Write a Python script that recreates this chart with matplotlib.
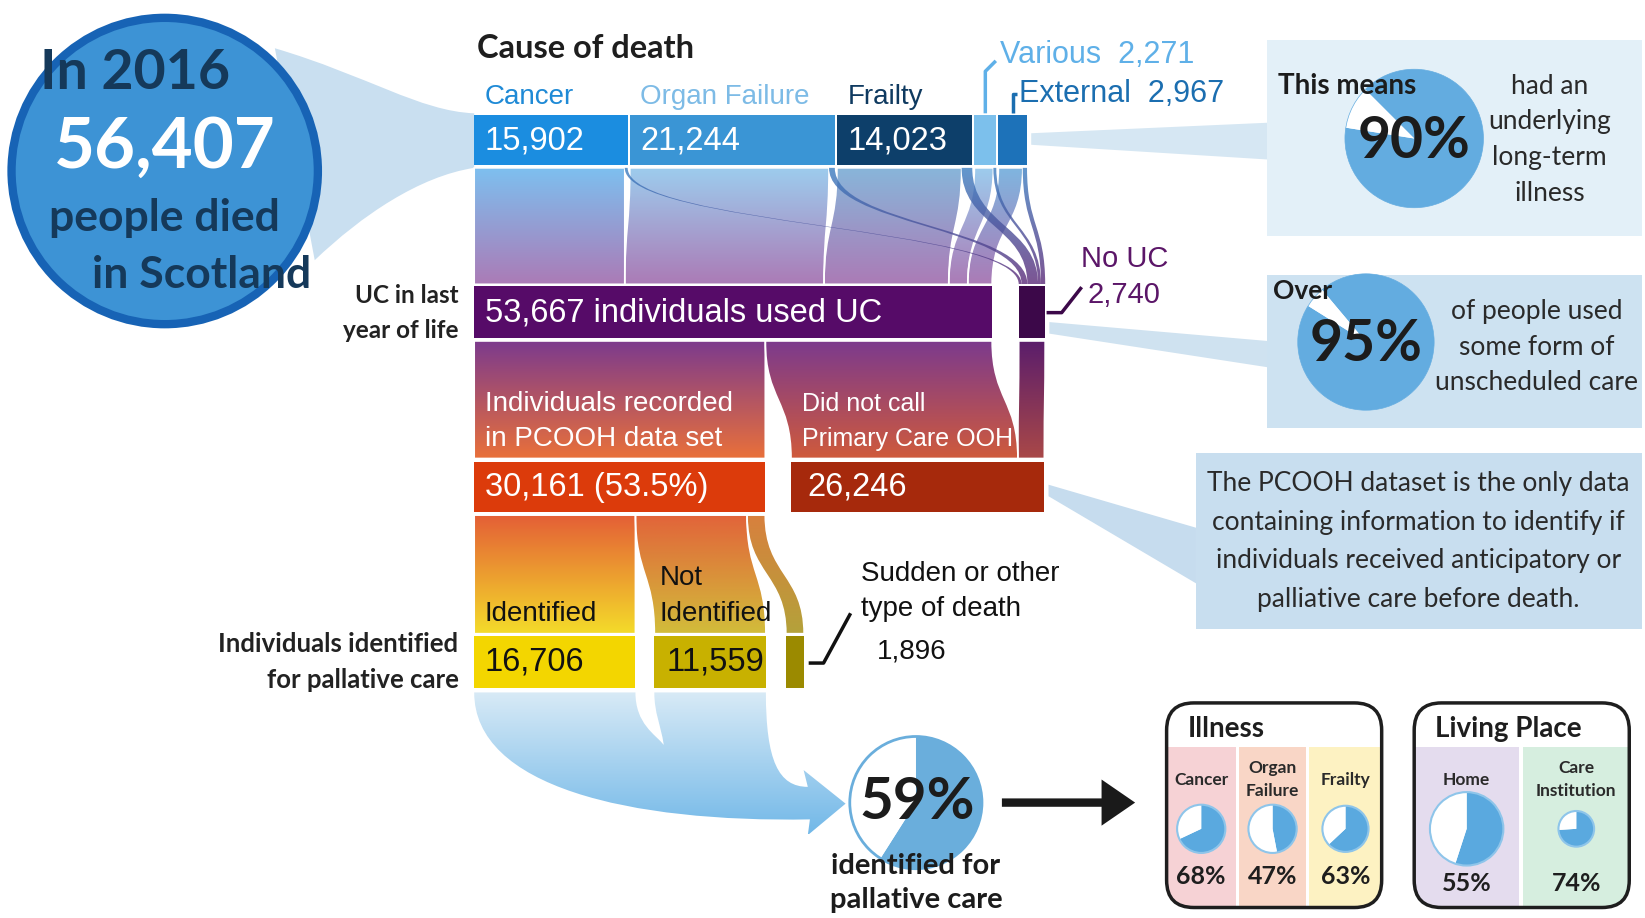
import numpy as np
import matplotlib
matplotlib.use('Agg')
import matplotlib.pyplot as plt
from matplotlib.path import Path
from matplotlib.patches import PathPatch, Rectangle, Circle, Polygon, FancyBboxPatch, FancyArrow
from matplotlib.colors import LinearSegmentedColormap

# ---------------- data ----------------
total_deaths = 56407
year = 2016
cause_labels = ['Cancer', 'Organ Failure', 'Frailty', 'Various', 'External']
cause_values = [15902, 21244, 14023, 2271, 2967]
cause_no_uc = [300, 600, 1100, 300, 440]          # estimated split of the 2,740 "No UC"
uc_values = [53667, 2740]                          # used UC, No UC
pcooh_values = [30161, 26246]                      # recorded in PCOOH, did not call
palliative_labels = ['Identified', 'Not Identified', 'Sudden or other type of death']
palliative_values = [16706, 11559, 1896]
underlying_pct = 90
uc_pct = 95
identified_pct = 59
illness_labels = ['Cancer', 'Organ\nFailure', 'Frailty']
illness_pcts = [68, 47, 63]
place_labels = ['Home', 'Care\nInstitution']
place_pcts = [55, 74]

# ---------------- canvas ----------------
W, H = 1568, 875
fig = plt.figure(figsize=(16.45, 9.18), dpi=100)
ax = fig.add_axes([0, 0, 1, 1])
ax.set_xlim(0, W); ax.set_ylim(H, 0); ax.axis('off')

SANS = 'Liberation Sans'
HUM = 'Lato'
S = 0.0092   # px per person
X0 = 452


def segs(values, x0, gaps):
    out = []; x = x0
    for v, g in zip(values, gaps):
        w = v * S
        out.append((x, x + w)); x += w + g
    return out


def band_path(a0, a1, yt, b0, b1, yb):
    ym = (yt + yb) / 2
    verts = [(a0, yt), (a0, ym), (b0, ym), (b0, yb), (b1, yb), (b1, ym), (a1, ym), (a1, yt), (a0, yt)]
    codes = [Path.MOVETO, Path.CURVE4, Path.CURVE4, Path.CURVE4, Path.LINETO,
             Path.CURVE4, Path.CURVE4, Path.CURVE4, Path.CLOSEPOLY]
    return Path(verts, codes)


def grad_fill(path, c0, c1, y0=None, y1=None, alpha=1.0, z=2, edge=None, lw=0):
    v = path.vertices
    if y0 is None: y0 = v[:, 1].min()
    if y1 is None: y1 = v[:, 1].max()
    patch = PathPatch(path, fc='none', ec='none', zorder=z)
    ax.add_patch(patch)
    cmap = LinearSegmentedColormap.from_list('g', [c0, c1])
    g = np.linspace(0, 1, 256).reshape(-1, 1)
    im = ax.imshow(g, cmap=cmap, extent=(v[:, 0].min() - 2, v[:, 0].max() + 2, y1, y0),
                   origin='upper', aspect='auto', alpha=alpha, zorder=z, interpolation='bilinear')
    im.set_clip_path(patch)
    if edge:
        ax.add_patch(PathPatch(path, fc='none', ec=edge, lw=lw, zorder=z + 0.05))


def pie(cx, cy, r, pct, start=270, blue='#5aa9df', ring='#8ec5ea', lw=1.5, z=6):
    ax.add_patch(Circle((cx, cy), r, fc='white', ec='none', zorder=z))
    ax.pie([pct, 100 - pct], colors=[blue, 'white'], startangle=start, counterclock=True,
           center=(cx, cy), radius=r, frame=True,
           wedgeprops=dict(linewidth=0, edgecolor='none', zorder=z + 0.1))
    for w in ax.patches[-2:]:
        w.set_zorder(z + 0.1)
    ax.add_patch(Circle((cx, cy), r, fc='none', ec=ring, lw=lw, zorder=z + 0.2))


# vertical layout
Y1 = (110, 157); F1 = (160, 271)
Y2 = (273, 322); F2 = (325, 437)
Y3 = (440, 488); F3 = (491, 604)
Y4 = (606, 656); F4 = 660

seg1 = segs(cause_values, X0, [2.0] * 5)
seg2 = segs(uc_values, X0, [25.3, 0])
seg3 = segs(pcooh_values, X0, [24.5, 0])
seg4 = segs(palliative_values, X0, [18, 19, 0])

# ---------------- left circle + funnel ----------------
fun = Path([(262, 46), (350, 72), (400, 106), (X0, 108), (X0, 160), (400, 168), (345, 205), (300, 248), (262, 46)],
           [Path.MOVETO, Path.CURVE4, Path.CURVE4, Path.CURVE4, Path.LINETO, Path.CURVE4, Path.CURVE4, Path.CURVE4,
            Path.CLOSEPOLY])
ax.add_patch(PathPatch(fun, fc='#c9dff0', ec='none', zorder=1))
ax.add_patch(Circle((157, 163), 146, fc='#3d93d5', ec='#1763b5', lw=6, zorder=5))
ax.text(38, 70, f'In {year}', fontsize=40, fontweight='bold', family=HUM, color='#15395a', ha='left', va='center', zorder=7)
ax.text(157, 140, f'{total_deaths:,}', fontsize=51, fontweight='bold', family=HUM, color='white', ha='center', va='center', zorder=7)
ax.text(157, 208, 'people died', fontsize=32, fontweight='bold', family=HUM, color='#15395a', ha='center', va='center', zorder=7)
ax.text(192, 262, 'in Scotland', fontsize=32, fontweight='bold', family=HUM, color='#15395a', ha='center', va='center', zorder=7)

# ---------------- right connector wedges & panels ----------------
ax.add_patch(Polygon([(seg1[-1][1] + 4, 127), (1208, 117), (1208, 152), (seg1[-1][1] + 4, 138)], fc='#d6e7f3', ec='none', zorder=1))
ax.add_patch(Polygon([(seg2[1][1] + 4, 307), (1208, 325), (1208, 350), (seg2[1][1] + 4, 318)], fc='#cfe2f0', ec='none', zorder=1))
ax.add_patch(Polygon([(seg3[1][1] + 4, 462), (1140, 503), (1140, 556), (seg3[1][1] + 4, 473)], fc='#c6dcee', ec='none', zorder=1))

ax.add_patch(Rectangle((1208, 38), 357, 187, fc='#e3f0f8', ec='none', zorder=2))
ax.add_patch(Rectangle((1208, 262), 357, 146, fc='#cde2f1', ec='none', zorder=2))
ax.add_patch(Rectangle((1140, 432), 425, 168, fc='#c8deef', ec='none', zorder=2))

pie(1348, 132, 66, underlying_pct, start=225, blue='#63ace0', ring='#63ace0', lw=0.5, z=3)
ax.text(1218, 82, 'This means', fontsize=20, fontweight='bold', family=HUM, color='#1c1c1c', ha='left', va='center', zorder=8)
ax.text(1348, 135, f'{underlying_pct}%', fontsize=41, fontweight='bold', family=HUM, color='#1c1c1c', ha='center', va='center', zorder=8)
for i, t in enumerate(['had an', 'underlying', 'long-term', 'illness']):
    ax.text(1477, 82 + 34 * i, t, fontsize=19, family=HUM, color='#2a2a2a', ha='center', va='center', zorder=8)

pie(1302, 326, 65, uc_pct, start=230, blue='#63ace0', ring='#63ace0', lw=0.5, z=3)
ax.text(1213, 277, 'Over', fontsize=19, fontweight='bold', family=HUM, color='#1c1c1c', ha='left', va='center', zorder=8)
ax.text(1302, 328, f'{uc_pct}%', fontsize=41, fontweight='bold', family=HUM, color='#1c1c1c', ha='center', va='center', zorder=8)
for i, t in enumerate(['of people used', 'some form of', 'unscheduled care']):
    ax.text(1465, 297 + 34 * i, t, fontsize=19, family=HUM, color='#2a2a2a', ha='center', va='center', zorder=8)

for i, t in enumerate(['The PCOOH dataset is the only data', 'containing information to identify if',
                       'individuals received anticipatory or', 'palliative care before death.']):
    ax.text(1352, 461 + 36.7 * i, t, fontsize=19, family=HUM, color='#2a2a2a', ha='center', va='center', zorder=8)

# ---------------- top row: cause of death ----------------
ax.text(455, 46, 'Cause of death', fontsize=23.5, fontweight='bold', family=HUM, color='#1e1e1e', ha='left', va='center')
bar1_c = ['#1b8de0', '#3a95d5', '#0d3f6a', '#7cc0ec', '#1d72b9']
lab1_c = ['#1f8ad6', '#7dbbe6', '#0f3a60', '#5fb0e8', '#1b6eb0']
for i, ((a, b), c) in enumerate(zip(seg1, bar1_c)):
    ax.add_patch(Rectangle((a, Y1[0]), b - a, Y1[1] - Y1[0], fc=c, ec='none', zorder=3))
    if i < 3:
        ax.text(a + 10, 92, cause_labels[i], fontsize=20, family=SANS, color=lab1_c[i], ha='left', va='center')
        ax.text(a + 10, 134, f'{cause_values[i]:,}', fontsize=23.5, family=SANS, color='white', ha='left', va='center', zorder=4)
xv = (seg1[3][0] + seg1[3][1]) / 2
ax.plot([xv, xv, xv + 10], [Y1[0] - 2, 68, 58], color=lab1_c[3], lw=2.5, solid_capstyle='butt')
ax.text(xv + 14, 52, f'{cause_labels[3]}  {cause_values[3]:,}', fontsize=22, family=SANS, color=lab1_c[3], ha='left', va='center')
xe = (seg1[4][0] + seg1[4][1]) / 2
ax.plot([xe, xe, xe + 4], [Y1[0] - 2, 90, 90], color=lab1_c[4], lw=2.5, solid_capstyle='butt')
ax.text(xe + 6, 90, f'{cause_labels[4]}  {cause_values[4]:,}', fontsize=22, family=SANS, color=lab1_c[4], ha='left', va='center')

# flow 1
top1 = ['#7dc0f0', '#9dcdee', '#88b6da', '#9dcdee', '#7fb6e0']
xu = seg2[0][0]; xn = seg2[1][0]
nouc_bands = []
for i, (a, b) in enumerate(seg1):
    wu = (cause_values[i] - cause_no_uc[i]) * S
    wn = cause_no_uc[i] * S
    grad_fill(band_path(a, a + wu, F1[0], xu, xu + wu, F1[1]), top1[i], '#ab7bb6', F1[0], F1[1], z=2, edge='white', lw=1.2)
    nouc_bands.append(band_path(a + wu, b, F1[0], xn, xn + wn, F1[1]))
    xu += wu; xn += wn
for p in nouc_bands:
    grad_fill(p, '#3b7fc2', '#5b2a78', F1[0], F1[1], alpha=0.8, z=2.5)

# row 2
ax.add_patch(Rectangle((seg2[0][0], Y2[0]), seg2[0][1] - seg2[0][0], Y2[1] - Y2[0], fc='#560b68', ec='none', zorder=3))
ax.add_patch(Rectangle((seg2[1][0], Y2[0]), seg2[1][1] - seg2[1][0], Y2[1] - Y2[0], fc='#3c0849', ec='none', zorder=3))
ax.text(462, 298, f'{uc_values[0]:,} individuals used UC', fontsize=23.5, family=SANS, color='white', ha='left', va='center', zorder=4)
ax.text(437, 282, 'UC in last', fontsize=17.5, fontweight='bold', family=HUM, color='#222222', ha='right', va='center')
ax.text(437, 315, 'year of life', fontsize=17.5, fontweight='bold', family=HUM, color='#222222', ha='right', va='center')
ax.text(1030, 247, 'No UC', fontsize=21, family=SANS, color='#5b1668', ha='left', va='center')
ax.text(1037, 281, f'{uc_values[1]:,}', fontsize=21, family=SANS, color='#5b1668', ha='left', va='center')
ax.plot([seg2[1][1] + 3, 1012, 1030], [298, 298, 275], color='#3c0849', lw=2.5)

# flow 2
p_end = seg2[0][0] + pcooh_values[0] * S
grad_fill(band_path(seg2[0][0], p_end, F2[0], seg3[0][0], seg3[0][1], F2[1]), '#7b3a8e', '#e9703a', F2[0], F2[1], edge='white', lw=1.2)
w_dnc_uc = (uc_values[0] - pcooh_values[0]) * S
grad_fill(band_path(p_end, seg2[0][1], F2[0], seg3[1][0], seg3[1][0] + w_dnc_uc, F2[1]), '#7b3a8e', '#cf5a3c', F2[0], F2[1], edge='white', lw=1.2)
grad_fill(band_path(seg2[1][0], seg2[1][1], F2[0], seg3[1][0] + w_dnc_uc, seg3[1][1], F2[1]), '#5a1d6c', '#a94848', F2[0], F2[1], edge='white', lw=1.2)
ax.text(462, 385, 'Individuals recorded', fontsize=20, family=SANS, color='white', ha='left', va='center', zorder=4)
ax.text(462, 418, 'in PCOOH data set', fontsize=20, family=SANS, color='white', ha='left', va='center', zorder=4)
ax.text(764, 385, 'Did not call', fontsize=18, family=SANS, color='white', ha='left', va='center', zorder=4)
ax.text(764, 418, 'Primary Care OOH', fontsize=18, family=SANS, color='white', ha='left', va='center', zorder=4)

# row 3
ax.add_patch(Rectangle((seg3[0][0], Y3[0]), seg3[0][1] - seg3[0][0], Y3[1] - Y3[0], fc='#dc3b0b', ec='none', zorder=3))
ax.add_patch(Rectangle((seg3[1][0], Y3[0]), seg3[1][1] - seg3[1][0], Y3[1] - Y3[0], fc='#a6290c', ec='none', zorder=3))
ax.text(462, 465, f'{pcooh_values[0]:,} ({100 * pcooh_values[0] / total_deaths:.1f}%)', fontsize=23.5, family=SANS, color='white', ha='left', va='center', zorder=4)
ax.text(seg3[1][0] + 16, 464, f'{pcooh_values[1]:,}', fontsize=23.5, family=SANS, color='white', ha='left', va='center', zorder=4)

# flow 3
f3_top = ['#e45f36', '#e2643a', '#d8803e']
f3_bot = ['#f4dc2a', '#d2bd3a', '#b4a23a']
xa = seg3[0][0]
for i, (a, b) in enumerate(seg4):
    w = palliative_values[i] * S
    grad_fill(band_path(xa, xa + w, F3[0], a, b, F3[1]), f3_top[i], f3_bot[i], F3[0], F3[1], edge='white', lw=1.2)
    xa += w
ax.text(462, 585, 'Identified', fontsize=20, family=SANS, color='#111111', ha='left', va='center', zorder=4)
ax.text(seg4[1][0] + 5, 551, 'Not', fontsize=20, family=SANS, color='#111111', ha='left', va='center', zorder=4)
ax.text(seg4[1][0] + 5, 585, 'Identified', fontsize=20, family=SANS, color='#111111', ha='left', va='center', zorder=4)

# row 4
bar4_c = ['#f3d600', '#c8b100', '#9b8a00']
for (a, b), c in zip(seg4, bar4_c):
    ax.add_patch(Rectangle((a, Y4[0]), b - a, Y4[1] - Y4[0], fc=c, ec='none', zorder=3))
ax.text(462, 631, f'{palliative_values[0]:,}', fontsize=23.5, family=SANS, color='#111111', ha='left', va='center', zorder=4)
ax.text(seg4[1][0] + 12, 631, f'{palliative_values[1]:,}', fontsize=23.5, family=SANS, color='#111111', ha='left', va='center', zorder=4)
ax.plot([seg4[2][1] + 6, 785, 810], [632, 632, 586], color='#111111', lw=2.5)
ax.text(821, 547, 'Sudden or other', fontsize=20, family=SANS, color='#111111', ha='left', va='center')
ax.text(821, 580, 'type of death', fontsize=20, family=SANS, color='#111111', ha='left', va='center')
ax.text(836, 621, f'{palliative_values[2]:,}', fontsize=20, family=SANS, color='#111111', ha='left', va='center')
ax.text(437, 614, 'Individuals identified', fontsize=18.5, fontweight='bold', family=HUM, color='#222222', ha='right', va='center')
ax.text(437, 648, 'for pallative care', fontsize=18.5, fontweight='bold', family=HUM, color='#222222', ha='right', va='center')

# flow 4: light blue arrow into 59% circle
i0, i1 = seg4[0]; n0, n1 = seg4[1]
tx = (i1 + n0) / 2 + 18
verts = [(i0, F4), (i1, F4),
         (i1, 690), (tx - 8, 700), (tx, 710),
         (tx - 3, 690), (n0, 680), (n0, F4),
         (n1, F4),
         (n1, 725), (742, 750), (770, 750),
         (766, 734), (806, 766), (770, 796), (772, 781),
         (600, 784), (i0, 750), (i0, F4),
         (i0, F4)]
codes = [Path.MOVETO, Path.LINETO,
         Path.CURVE4, Path.CURVE4, Path.CURVE4,
         Path.CURVE4, Path.CURVE4, Path.CURVE4,
         Path.LINETO,
         Path.CURVE4, Path.CURVE4, Path.CURVE4,
         Path.LINETO, Path.LINETO, Path.LINETO, Path.LINETO,
         Path.CURVE4, Path.CURVE4, Path.CURVE4,
         Path.CLOSEPOLY]
grad_fill(Path(verts, codes), '#d8eaf6', '#72b8e8', F4, 795, z=2)

pie(873, 765, 63, identified_pct, start=270, blue='#6aaedc', ring='#6aaedc', lw=2, z=3)
ax.text(874, 765, f'{identified_pct}%', fontsize=42, fontweight='bold', family=HUM, color='#1c1c1c', ha='center', va='center', zorder=8)
ax.text(873, 825, 'identified for', fontsize=21, fontweight='bold', family=HUM, color='#1c1c1c', ha='center', va='center', zorder=8)
ax.text(873, 858, 'pallative care', fontsize=21, fontweight='bold', family=HUM, color='#1c1c1c', ha='center', va='center', zorder=8)

ax.add_patch(FancyArrow(955, 765, 127, 0, width=8, head_width=44, head_length=32, length_includes_head=True,
                        fc='#1a1a1a', ec='none', zorder=3))

# ---------------- bottom boxes ----------------
def box(x0, y0, w, h, title, labels, pcts, col_colors, col_edges, radii, pct_y):
    bp = FancyBboxPatch((x0, y0), w, h, boxstyle='round,pad=0,rounding_size=26', fc='white', ec='none', zorder=3)
    ax.add_patch(bp)
    for (a, b), c in zip(col_edges, col_colors):
        r = Rectangle((a, 712), b - a, y0 + h - 712, fc=c, ec='none', zorder=3.5)
        ax.add_patch(r); r.set_clip_path(bp)
    ax.add_patch(FancyBboxPatch((x0, y0), w, h, boxstyle='round,pad=0,rounding_size=26', fc='none', ec='#1e1e1e', lw=2.5, zorder=9))
    ax.text(x0 + 20, 695, title, fontsize=20, fontweight='bold', family=HUM, color='#1e1e1e', ha='left', va='center', zorder=8)
    for (a, b), lab, p, r in zip(col_edges, labels, pcts, radii):
        cx = (a + b) / 2
        lines = lab.split('\n')
        if len(lines) == 1:
            ax.text(cx, 743, lines[0], fontsize=12.5, fontweight='bold', family=HUM, color='#2a2a2a', ha='center', va='center', zorder=8)
        else:
            ax.text(cx, 732, lines[0], fontsize=12.5, fontweight='bold', family=HUM, color='#2a2a2a', ha='center', va='center', zorder=8)
            ax.text(cx, 754, lines[1], fontsize=12.5, fontweight='bold', family=HUM, color='#2a2a2a', ha='center', va='center', zorder=8)
        pie(cx, 790, r, p, start=270, blue='#5aa9df', ring='#8ec5ea', lw=1.5, z=5)
        ax.text(cx, pct_y, f'{p}%', fontsize=18, fontweight='bold', family=HUM, color='#1e1e1e', ha='center', va='center', zorder=8)


box(1112, 670, 205, 195, 'Illness', illness_labels, illness_pcts,
    ['#f6d2d5', '#f9d6c6', '#fdf2c2'], [(1112, 1178), (1181, 1245), (1248, 1317)], [23, 23, 22], 835)
box(1348, 670, 205, 195, 'Living Place', place_labels, place_pcts,
    ['#e4dcee', '#d6eedf'], [(1348, 1448), (1452, 1553)], [35, 17], 842)

ax.set_aspect('auto')
ax.set_xlim(0, W); ax.set_ylim(H, 0)
fig.savefig('out.png', dpi=100)
